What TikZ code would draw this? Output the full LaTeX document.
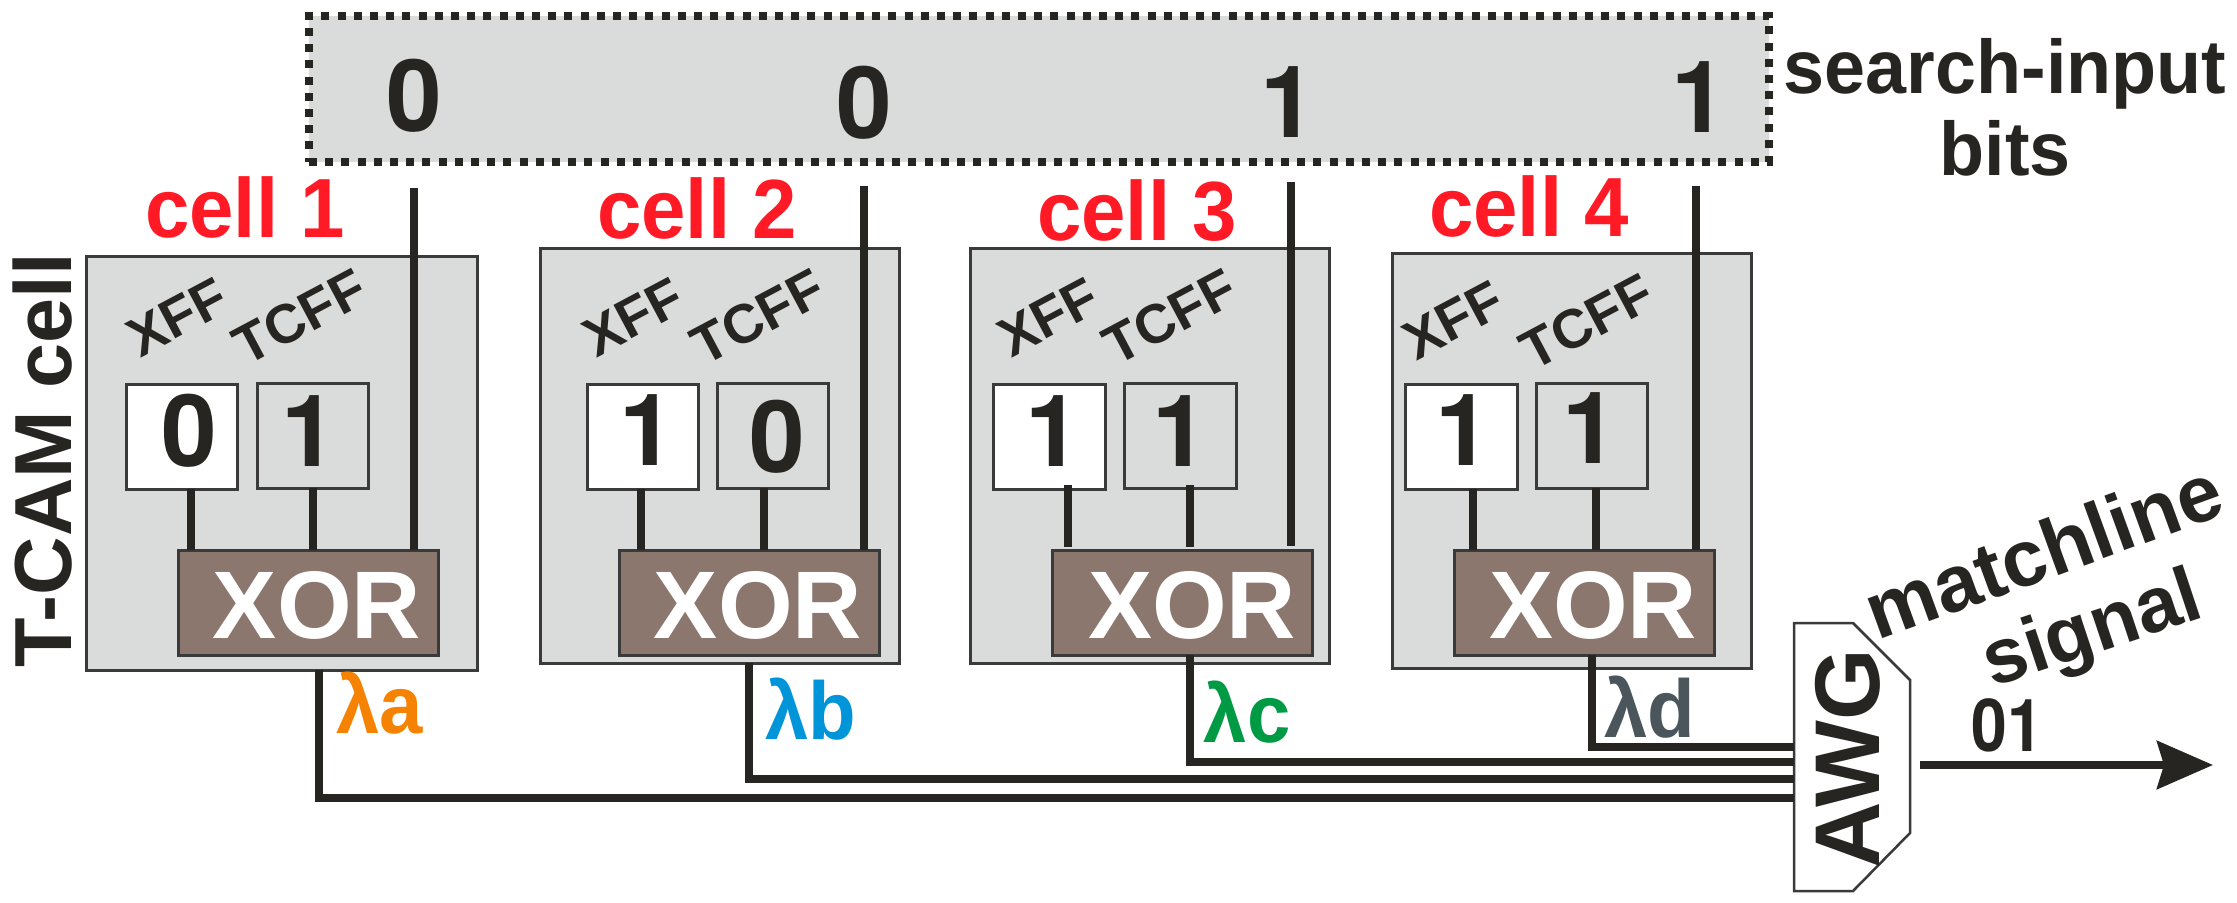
\documentclass[tikz,border=0pt]{standalone}
\usepackage{fontspec}
\setmainfont{Liberation Sans}
\newfontfamily\hv{TeX Gyre Heros}
\usetikzlibrary{arrows.meta}
\definecolor{ink}{HTML}{272522}
\definecolor{edge}{HTML}{3A3A3A}
\definecolor{panel}{HTML}{DADCDB}
\definecolor{xorfill}{HTML}{8B776E}
\definecolor{cellred}{HTML}{FF1A25}
\definecolor{laorange}{HTML}{F58200}
\definecolor{lablue}{HTML}{0095D9}
\definecolor{lagreen}{HTML}{009A44}
\definecolor{lagrey}{HTML}{4A565C}
\newcommand\pxfont[1]{\bfseries\fontsize{#1}{#1}\selectfont}
\newcommand\sx[2]{\scalebox{#1}[1]{#2}}
\newcommand\rn[6]{\node[#1,minimum width={(#5)-(#3)},minimum height={(#6)-(#4)}] (#2) at ({((#3)+(#5))/2},{((#4)+(#6))/2}) {};}
\tikzset{
  rbox/.style={rectangle,inner sep=0pt,outer sep=0pt,line width=3pt,draw=edge},
  cellbox/.style={rbox,fill=panel},
  xffbox/.style={rbox,fill=white},
  tcffbox/.style={rbox,fill=panel},
  xorbox/.style={rbox,fill=xorfill},
  barbox/.style={rectangle,inner sep=0pt,outer sep=0pt,fill=panel,draw=ink,line width=8pt,dash pattern=on 8pt off 8.2pt},
  awgbox/.style={rectangle,inner sep=0pt,outer sep=0pt},
  wire/.style={draw=ink,line width=7.5pt},
  txt/.style={inner sep=0pt,outer sep=0pt,anchor=base,text=ink},
  digit/.style={txt,font=\hv\pxfont{100}},
  xorlab/.style={txt,text=white,font=\pxfont{96}},
  celllab/.style={txt,text=cellred,font=\pxfont{84}},
  fflab/.style={inner sep=0pt,outer sep=0pt,text=ink,rotate=28,font=\pxfont{55}},
  wl/.style={txt,font=\pxfont{82}},
  biglab/.style={txt,font=\pxfont{76}},
}
\begin{document}
\begin{tikzpicture}[x=1pt,y=-1pt]
\useasboundingbox (0,0) rectangle (2237,902);
% search bar
\rn{barbox}{bar}{309}{16}{1769}{162}
\node[digit] (s1) at (414,131) {0};
\node[digit] (s2) at (864,138) {0};
\node[digit] (s3) at (1288,137) {1};
\node[digit] (s4) at (1699,132) {1};
\node[biglab] (sl1) at (2005,93) {\sx{.97}{search-input}};
\node[biglab] (sl2) at (2005,175) {\sx{.97}{bits}};
% cell boxes
\rn{cellbox}{cell1}{86}{256}{477}{670}
\rn{cellbox}{cell2}{540}{248}{899}{663}
\rn{cellbox}{cell3}{970}{248}{1329}{663}
\rn{cellbox}{cell4}{1392}{253}{1751}{668}
\node[celllab] (c1) at (245,237) {\sx{.95}{cell 1}};
\node[celllab] (c2) at (697,238) {\sx{.95}{cell 2}};
\node[celllab] (c3) at (1137,240) {\sx{.95}{cell 3}};
\node[celllab] (c4) at (1529,236) {\sx{.95}{cell 4}};
\node[biglab,rotate=90,font=\pxfont{81}] (tcam) at (71,460) {T-CAM cell};
% flip-flops
\rn{xffbox}{xff1}{126}{384}{237}{489}
\rn{tcffbox}{tcff1}{257}{383}{368}{488}
\rn{xffbox}{xff2}{587}{384}{698}{489}
\rn{tcffbox}{tcff2}{717}{383}{828}{488}
\rn{xffbox}{xff3}{993}{384}{1105}{489}
\rn{tcffbox}{tcff3}{1124}{383}{1236}{488}
\rn{xffbox}{xff4}{1405}{384}{1517}{489}
\rn{tcffbox}{tcff4}{1536}{383}{1647}{488}
\node[fflab] (x1) at (177,317) {XFF};
\node[fflab] (t1) at (300,317) {TCFF};
\node[fflab] (x2) at (633,317) {XFF};
\node[fflab] (t2) at (758,317) {TCFF};
\node[fflab] (x3) at (1048,317) {XFF};
\node[fflab] (t3) at (1170,317) {TCFF};
\node[fflab] (x4) at (1453,320) {XFF};
\node[fflab] (t4) at (1587,322) {TCFF};
\node[digit] (d1a) at (189,466) {0};
\node[digit] (d1b) at (309,466) {1};
\node[digit] (d2a) at (647,465) {1};
\node[digit] (d2b) at (777,472) {0};
\node[digit] (d3a) at (1053,466) {1};
\node[digit] (d3b) at (1180,466) {1};
\node[digit] (d4a) at (1463,465) {1};
\node[digit] (d4b) at (1590,463) {1};
% XOR gates
\rn{xorbox}{xor1}{178}{550}{438}{655}
\rn{xorbox}{xor2}{619}{550}{879}{655}
\rn{xorbox}{xor3}{1052}{550}{1312}{655}
\rn{xorbox}{xor4}{1454}{550}{1714}{655}
\node[xorlab] (xt1) at (317,638) {XOR};
\node[xorlab] (xt2) at (758,638) {XOR};
\node[xorlab] (xt3) at (1192,638) {XOR};
\node[xorlab] (xt4) at (1593,638) {XOR};
% wire positions
\coordinate (p1a) at (191,0); \coordinate (p1b) at (313,0); \coordinate (in1) at (414,188);
\coordinate (p2a) at (641,0); \coordinate (p2b) at (764,0); \coordinate (in2) at (864,186);
\coordinate (p3at) at (1068,485); \coordinate (p3ab) at (1068,547);
\coordinate (p3bt) at (1190,485); \coordinate (p3bb) at (1190,547);
\coordinate (in3) at (1291,182); \coordinate (in3e) at (1291,546);
\coordinate (p4a) at (1473,0); \coordinate (p4b) at (1596,0); \coordinate (in4) at (1696,186);
\draw[wire] (xff1.south -| p1a) -- (xor1.north -| p1a);
\draw[wire] (tcff1.south -| p1b) -- (xor1.north -| p1b);
\draw[wire] (in1) -- (xor1.north -| in1);
\draw[wire] (xff2.south -| p2a) -- (xor2.north -| p2a);
\draw[wire] (tcff2.south -| p2b) -- (xor2.north -| p2b);
\draw[wire] (in2) -- (xor2.north -| in2);
\draw[wire] (p3at) -- (p3ab);
\draw[wire] (p3bt) -- (p3bb);
\draw[wire] (in3) -- (in3e);
\draw[wire] (xff4.south -| p4a) -- (xor4.north -| p4a);
\draw[wire] (tcff4.south -| p4b) -- (xor4.north -| p4b);
\draw[wire] (in4) -- (xor4.north -| in4);
% AWG
\rn{awgbox}{awg}{1794}{623}{1910}{891}
\draw[draw=edge,fill=white,line width=2.5pt] (awg.north west) -- ++(59,0) -- ([yshift=-57pt]awg.north east)
  -- ([yshift=58pt]awg.south east) -- ([xshift=-57pt]awg.south east) -- (awg.south west) -- cycle;
\node[txt,rotate=90,font=\pxfont{92}] (awgt) at (1879,759) {AWG};
% output wires to the AWG
\coordinate (oa) at (319,798); \coordinate (ob) at (749,779); \coordinate (oc) at (1190,762); \coordinate (od) at (1592,747);
\draw[wire] (cell1.south -| oa) -- (oa) -- (awg.west |- oa);
\draw[wire] (cell2.south -| ob) -- (ob) -- (awg.west |- ob);
\draw[wire] (xor3.south -| oc) -- (oc) -- (awg.west |- oc);
\draw[wire] (xor4.south -| od) -- (od) -- (awg.west |- od);
\node[wl,text=laorange] (la) at (380,733) {\sx{.95}{λa}};
\node[wl,text=lablue] (lb) at (811,739) {\sx{.95}{λb}};
\node[wl,text=lagreen] (lc) at (1247,742) {\sx{.95}{λc}};
\node[wl,text=lagrey] (ld) at (1650,737) {\sx{.95}{λd}};
% output arrow
\coordinate (outs) at (1920,765); \coordinate (oute) at (2213,765);
\draw[wire,-{Stealth[length=56pt,width=48pt,inset=7pt]}] (outs) -- (oute);
\node[txt,font=\hv\pxfont{73}] (bits) at (2007,751) {\sx{.88}{01}};
\node[biglab,rotate=20,font=\pxfont{80}] (ml) at (2053,577) {matchline};
\node[biglab,rotate=18.4,font=\pxfont{78}] (sg) at (2099,652) {signal};
\end{tikzpicture}
\end{document}
